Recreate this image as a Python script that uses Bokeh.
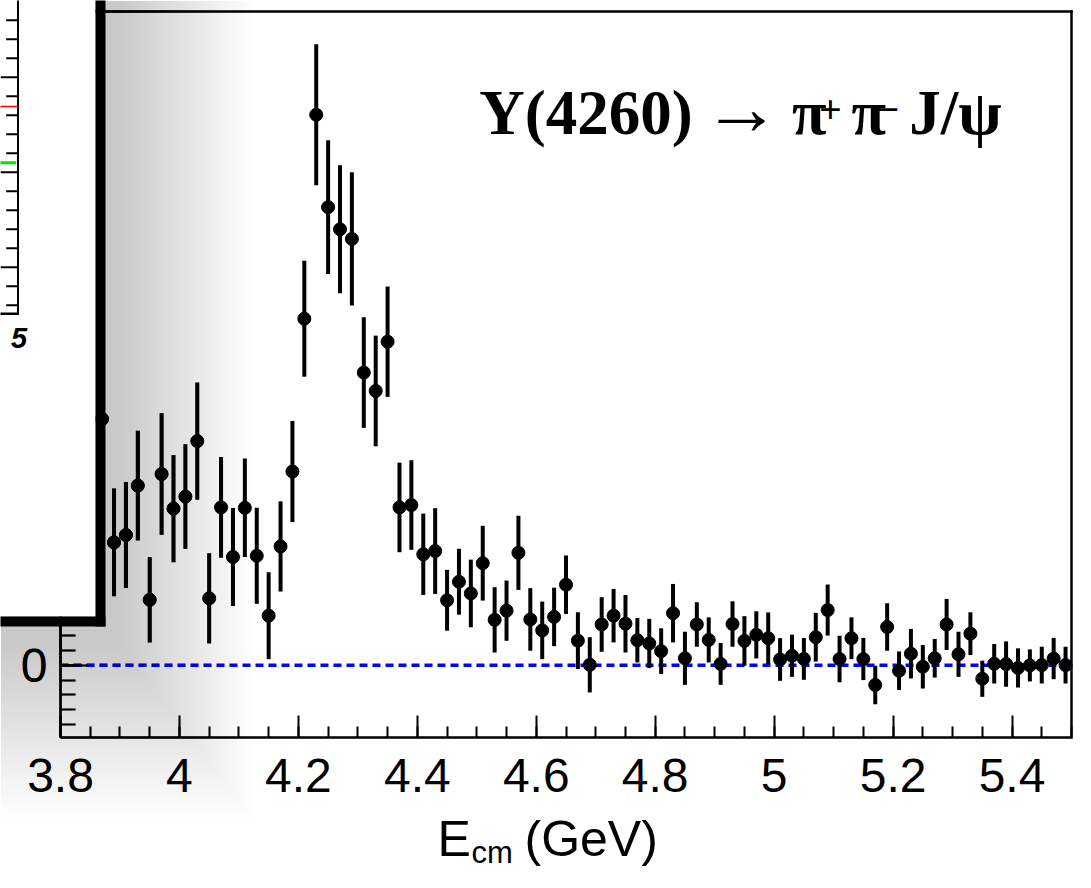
import numpy as np
from bokeh.plotting import figure
from bokeh.models import (Range1d, FixedTicker, BoxAnnotation, Label,
                          LinearAxis, ColumnDataSource)
from bokeh.embed import file_html
from bokeh.resources import INLINE

# ---------------- data ----------------
energy = [3.87, 3.89, 3.91, 3.93, 3.95, 3.97, 3.99, 4.01, 4.03, 4.05,
          4.07, 4.09, 4.11, 4.13, 4.15, 4.17, 4.19, 4.21, 4.23, 4.25,
          4.27, 4.29, 4.31, 4.33, 4.35, 4.37, 4.39, 4.41, 4.43, 4.45,
          4.47, 4.49, 4.51, 4.53, 4.55, 4.57, 4.59, 4.61, 4.63, 4.65,
          4.67, 4.69, 4.71, 4.73, 4.75, 4.77, 4.79, 4.81, 4.83, 4.85,
          4.87, 4.89, 4.91, 4.93, 4.95, 4.97, 4.99, 5.01, 5.03, 5.05,
          5.07, 5.09, 5.11, 5.13, 5.15, 5.17, 5.19, 5.21, 5.23, 5.25,
          5.27, 5.29, 5.31, 5.33, 5.35, 5.37, 5.39, 5.41, 5.43, 5.45,
          5.47, 5.49]
signal = [16.6, 8.28, 8.78, 12.11, 4.41, 12.89, 10.56, 11.37, 15.11, 4.51,
          10.64, 7.30, 10.61, 7.38, 3.34, 8.01, 13.06, 23.36, 37.11, 30.88,
          29.39, 28.74, 19.73, 18.49, 21.81, 10.64, 10.80, 7.48, 7.70, 4.38,
          5.63, 4.84, 6.88, 3.06, 3.68, 7.58, 3.09, 2.35, 3.26, 5.43,
          1.66, 0.03, 2.75, 3.34, 2.80, 1.69, 1.47, 0.95, 3.51, 0.47,
          2.75, 1.71, 0.09, 2.78, 1.64, 2.05, 1.82, 0.39, 0.64, 0.43,
          1.89, 3.72, 0.42, 1.82, 0.42, -1.33, 2.58, -0.37, 0.78, -0.10,
          0.47, 2.75, 0.74, 2.13, -0.91, 0.10, 0.08, -0.18, -0.01, 0.01,
          0.45, 0.01]
error = [3.7, 3.63, 3.57, 3.70, 2.87, 4.09, 3.61, 3.52, 3.95, 3.04,
         3.40, 3.30, 3.32, 3.24, 2.93, 3.04, 3.41, 3.91, 4.75, 4.51,
         4.31, 4.49, 3.73, 3.73, 3.72, 3.02, 3.02, 2.74, 2.89, 2.05,
         2.22, 2.28, 2.52, 2.20, 2.03, 2.50, 2.11, 1.94, 1.97, 1.97,
         1.91, 1.86, 1.84, 1.80, 1.94, 1.50, 1.66, 1.54, 1.97, 1.79,
         1.50, 1.52, 1.41, 1.53, 1.67, 1.59, 1.74, 1.44, 1.42, 1.41,
         1.64, 1.72, 1.57, 1.41, 1.42, 1.30, 1.60, 1.30, 1.67, 1.47,
         1.30, 1.72, 1.52, 1.44, 1.22, 1.33, 1.53, 1.32, 1.08, 1.24,
         1.39, 1.24]

x_ticks = [3.8, 4.0, 4.2, 4.4, 4.6, 4.8, 5.0, 5.2, 5.4]
x_tick_labels = ["3.8", "4", "4.2", "4.4", "4.6", "4.8", "5", "5.2", "5.4"]
y_ticks = [0]
y_tick_labels = ["0"]
x_min, x_max = 3.8, 5.5
y_min, y_max = -4.87, 44.07
title_parts = ["Y(4260)", "\u2192", "\u03c0", "+", "\u03c0", "\u2212", "J/\u03c8"]
xlabel_parts = ["E", "cm", "(GeV)"]

# ---------------- geometry of the plot frame on the canvas ----------------
W, H = 1075, 870
FL, FR, FT, FB = 60.0, 1071.0, 11.0, 737.0          # frame edges in canvas px
kx = (FR - FL) / (x_max - x_min)
ky = (FB - FT) / (y_max - y_min)
xr = Range1d(x_min - FL / kx, x_max + (W - FR) / kx)
yr = Range1d(y_min - (H - FB) / ky, y_max + FT / ky)

# the whole canvas is the drawing area; axes are pinned to the frame edges
p = figure(width=W, height=H, x_range=xr, y_range=yr,
           output_backend="svg", toolbar_location=None,
           x_axis_type=None, y_axis_type=None,
           min_border_left=0, min_border_right=0, min_border_top=0, min_border_bottom=0)
p.outline_line_color = None
p.background_fill_color = "white"
p.border_fill_color = "white"

xaxis = LinearAxis(fixed_location=y_min, bounds=(x_min, x_max),
                   ticker=FixedTicker(ticks=x_ticks,
                                      minor_ticks=list(np.round(np.arange(3.8, 5.501, 0.05), 3))))
xaxis.major_label_overrides = dict(zip(x_ticks, x_tick_labels))
yaxis = LinearAxis(fixed_location=x_min, bounds=(y_min, y_max),
                   ticker=FixedTicker(ticks=y_ticks, minor_ticks=list(range(-4, 45))))
yaxis.major_label_overrides = dict(zip(y_ticks, y_tick_labels))
for ax, tin, tmin in ((xaxis, 22, 11), (yaxis, 27, 15)):
    ax.axis_line_width = 2.5
    ax.axis_line_color = "black"
    ax.major_tick_in = tin
    ax.major_tick_out = 0
    ax.minor_tick_in = tmin
    ax.minor_tick_out = 0
    ax.major_tick_line_width = 2
    ax.minor_tick_line_width = 2
    ax.major_tick_line_color = "black"
    ax.minor_tick_line_color = "black"
    ax.major_label_text_font = "Liberation Sans"
    ax.major_label_text_font_size = "48px"
    ax.major_label_text_color = "black"
xaxis.major_label_standoff = 21
yaxis.major_label_standoff = 13
p.add_layout(xaxis, "below")
p.add_layout(yaxis, "left")

# zero line (drawn first, under the points)
p.segment(x0=[x_min], y0=[0], x1=[x_max], y1=[0], line_color="#0000ff", line_width=3.5,
          line_dash="8 5")
# frame lines top / right
p.segment(x0=[x_min, x_max], y0=[y_max, y_min], x1=[x_max, x_max], y1=[y_max, y_max],
          line_color="black", line_width=2.5, line_cap="square")

# data
sig = np.array(signal)
err = np.array(error)
src = ColumnDataSource(dict(energy=energy, signal=signal, lo=sig - err, hi=sig + err))
p.segment(x0="energy", y0="lo", x1="energy", y1="hi", source=src, line_color="black", line_width=4)
p.scatter("energy", "signal", source=src, size=13, color="black")


def cbox(l, r, t, b, color, alpha=1.0, level="annotation"):
    p.add_layout(BoxAnnotation(left=l, right=r, top=t, bottom=b,
                               left_units="canvas", right_units="canvas",
                               top_units="canvas", bottom_units="canvas",
                               fill_color=color, fill_alpha=alpha, line_color=None,
                               level=level))


def clabel(txt, x, baseline, size, font, style="normal", align="left", asc=0.3375):
    # text placed with "middle" anchor; shift so that the glyph baseline lands on `baseline`
    p.add_layout(Label(x=x, y=baseline - asc * size, x_units="canvas", y_units="canvas",
                       text=txt, text_font=font, text_font_style=style,
                       text_font_size=f"{size}px", text_color="black",
                       text_baseline="middle", text_align=align))


# ---------------- drop shadow of the overlapping panel ----------------
edge_x, edge_y = 105, 626
step, dmax, D0, sigma, stretch_y = 2.5, 280.0, 0.23, 100.0, 1.3
ds = np.arange(0, dmax, step)
T = 1 - D0 * np.exp(-(ds / sigma) ** 2)
T_next = np.append(T[1:], 1.0)
alphas = 1 - T / T_next
for d, a in zip(ds, alphas):
    cbox(-60, edge_x + d + step, -60, edge_y + (d + step) * stretch_y, "black", float(a))

# ---------------- the overlapping panel ----------------
cbox(-60, 95, -60, 616, "white")
cbox(95, 105, -60, 626, "black")
cbox(-60, 105, 616, 626, "black")
# its axis lines
cbox(-60, 18.5, 312, 314.5, "black")
cbox(16.5, 18.5, -60, 314.5, "black")
# its ticks
for k in range(-2, 14):
    yk = 266.7 - 19.0 * k
    x0 = 0 if k % 5 == 0 else 5.7
    cbox(x0, 17, yk - 1, yk + 1, "black")
# red and green lines
cbox(-60, 18, 105.3, 106.7, "#ff0000")
cbox(-60, 15.7, 160.8, 163.8, "#00e600")
clabel("5", 18.5, 348, 29, "Liberation Sans", style="bold italic", align="center", asc=0.3465)

# ---------------- title ----------------
tx = [478.8, 702, 791.6, 818.5, 851, 876, 908.7]
tb = [133.3, 133.3, 133.3, 122.6, 133.3, 123.4, 133.3]
ts = [63, 78, 63, 40, 63, 40, 63]
for txt, x, b, s in zip(title_parts, tx, tb, ts):
    clabel(txt, x, b, s, "Liberation Serif", style="bold")

# ---------------- x axis title ----------------
lx = [437, 471, 524]
lb = [856, 863, 856]
ls = [50, 31, 50]
for txt, x, b, s in zip(xlabel_parts, lx, lb, ls):
    clabel(txt, x, b, s, "Liberation Sans", asc=0.3465)

open("out.html", "w").write(file_html(p, INLINE))
